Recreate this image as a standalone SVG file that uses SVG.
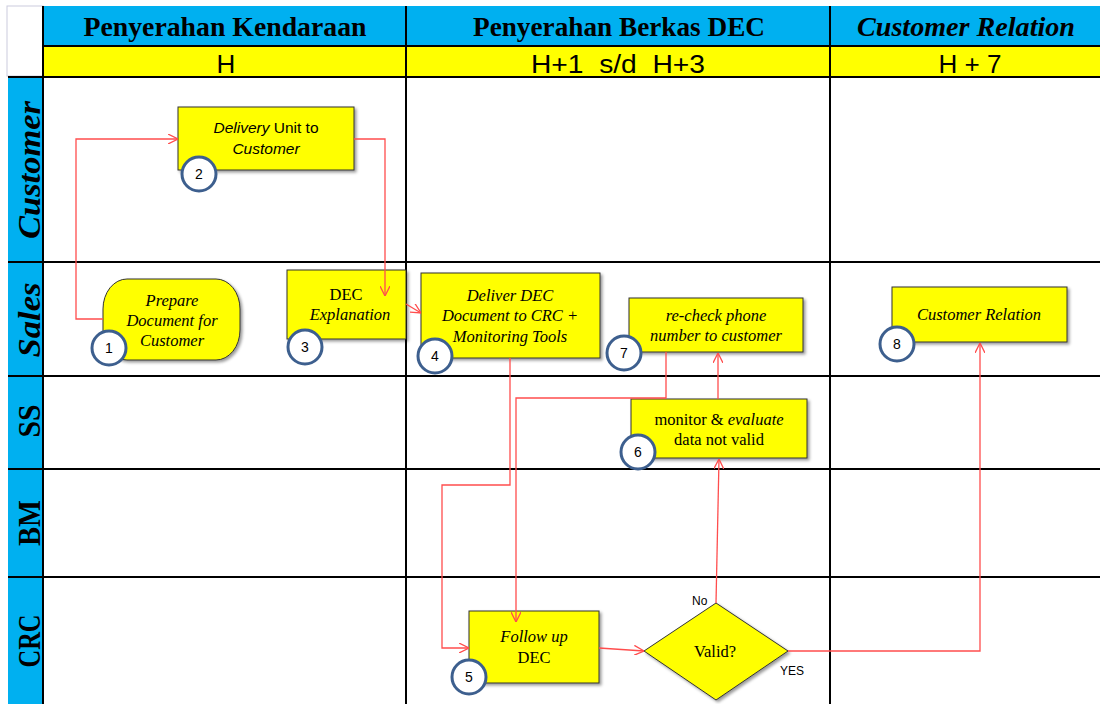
<svg xmlns="http://www.w3.org/2000/svg" width="1104" height="704" viewBox="0 0 1104 704">
<defs>
<style>
.hdr{font-family:"Liberation Serif",serif;font-weight:bold;font-size:28px;fill:#000;text-anchor:middle}
.day{font-family:"Liberation Sans",sans-serif;font-size:26px;fill:#000;text-anchor:middle}
.lane{font-family:"Liberation Serif",serif;font-weight:bold;font-size:31px;fill:#000;text-anchor:middle}
.grid{stroke:#000;stroke-width:2;fill:none}
.box{fill:#ffff00;stroke:#333;stroke-width:1;filter:url(#sh)}
.t{font-family:"Liberation Serif",serif;font-size:16.5px;fill:#000;text-anchor:middle}
.s{font-family:"Liberation Sans",sans-serif;font-size:15.5px;fill:#000;text-anchor:middle}
.i{font-style:italic}
.num{fill:#fff;stroke:#3d5f8e;stroke-width:3}
.nt{font-family:"Liberation Sans",sans-serif;font-size:14px;fill:#000;text-anchor:middle}
.c{fill:none;stroke:#ff4d4d;stroke-width:1.3;marker-end:url(#ah)}
.lbl{font-family:"Liberation Sans",sans-serif;font-size:12px;fill:#000}
</style>
<filter id="sh" x="-10%" y="-10%" width="130%" height="140%">
<feDropShadow dx="2" dy="2" stdDeviation="1.5" flood-color="#000" flood-opacity="0.4"/>
</filter>
<marker id="ah" viewBox="0 0 10 10" refX="10" refY="5" markerWidth="10" markerHeight="10" markerUnits="userSpaceOnUse" orient="auto">
<path d="M0,0 L10,5 L0,10" fill="none" stroke="#ff4d4d" stroke-width="1.3"/>
</marker>
</defs>
<rect x="0" y="0" width="1104" height="704" fill="#fff"/>
<g id="table">
<rect x="7" y="6" width="36" height="70" fill="#fff" stroke="#ccd" stroke-width="1"/>
<rect x="43" y="6" width="1057" height="40" fill="#00b0f0"/>
<rect x="43" y="46" width="1057" height="30" fill="#ffff00"/>
<rect x="8" y="77" width="35" height="627" fill="#00b0f0"/>
<line class="grid" x1="43" y1="46" x2="1100" y2="46"/>
<line class="grid" x1="8" y1="77" x2="1100" y2="77"/>
<line class="grid" x1="8" y1="262" x2="1100" y2="262"/>
<line class="grid" x1="8" y1="376" x2="1100" y2="376"/>
<line class="grid" x1="8" y1="469" x2="1100" y2="469"/>
<line class="grid" x1="8" y1="577" x2="1100" y2="577"/>
<line class="grid" x1="43" y1="6" x2="43" y2="704"/>
<line class="grid" x1="406" y1="6" x2="406" y2="704"/>
<line class="grid" x1="830" y1="6" x2="830" y2="704"/>
<text class="hdr" x="225" y="36" textLength="283" lengthAdjust="spacingAndGlyphs">Penyerahan Kendaraan</text>
<text class="hdr" x="619" y="36" textLength="292" lengthAdjust="spacingAndGlyphs">Penyerahan Berkas DEC</text>
<text class="hdr i" x="966" y="36" textLength="218" lengthAdjust="spacingAndGlyphs">Customer Relation</text>
<text class="day" x="226" y="73">H</text>
<text class="day" x="618" y="73" textLength="174" lengthAdjust="spacingAndGlyphs" xml:space="preserve">H+1  s/d  H+3</text>
<text class="day" x="970" y="73" textLength="63" lengthAdjust="spacingAndGlyphs">H + 7</text>
<text class="lane i" transform="translate(40,170) rotate(-90)" font-size="33" textLength="138" lengthAdjust="spacingAndGlyphs">Customer</text>
<text class="lane i" transform="translate(40,320) rotate(-90)" font-size="33" textLength="75" lengthAdjust="spacingAndGlyphs">Sales</text>
<text class="lane" transform="translate(40,421) rotate(-90)" textLength="33" lengthAdjust="spacingAndGlyphs">SS</text>
<text class="lane" transform="translate(40,523) rotate(-90)" textLength="46" lengthAdjust="spacingAndGlyphs">BM</text>
<text class="lane" transform="translate(40,641) rotate(-90)" textLength="53" lengthAdjust="spacingAndGlyphs">CRC</text>
</g>
<g id="node1">
<rect class="box" x="103" y="279" width="137" height="81" rx="24" ry="30"/>
<text class="t i" x="172" y="306">Prepare</text>
<text class="t i" x="172" y="326">Document for</text>
<text class="t i" x="172" y="346">Customer</text>
<circle class="num" cx="109" cy="348" r="17"/>
<text class="nt" x="109" y="353">1</text>
</g>
<g id="node2">
<rect class="box" x="178" y="107" width="176" height="63"/>
<text class="s" x="266" y="133"><tspan class="i">Delivery</tspan> Unit to</text>
<text class="s i" x="266" y="154">Customer</text>
<circle class="num" cx="199" cy="174" r="17"/>
<text class="nt" x="199" y="179">2</text>
</g>
<g id="node3">
<rect class="box" x="287" y="270" width="119" height="69"/>
<text class="t" x="346" y="300" font-size="17">DEC</text>
<text class="t i" x="350" y="320" font-size="17">Explanation</text>
<circle class="num" cx="305" cy="347" r="17"/>
<text class="nt" x="305" y="352">3</text>
</g>
<g id="node4">
<rect class="box" x="421" y="273" width="179" height="85"/>
<text class="t i" x="510" y="301" font-size="17.5">Deliver DEC</text>
<text class="t i" x="510" y="321" font-size="17.5">Document to CRC +</text>
<text class="t i" x="510" y="342" font-size="17.5">Monitoring Tools</text>
<circle class="num" cx="435" cy="356" r="17"/>
<text class="nt" x="435" y="361">4</text>
</g>
<g id="node5">
<rect class="box" x="469" y="611" width="130" height="72"/>
<text class="t i" x="534" y="642" font-size="17">Follow up</text>
<text class="t" x="534" y="663" font-size="18">DEC</text>
<circle class="num" cx="469" cy="677" r="17"/>
<text class="nt" x="469" y="682">5</text>
</g>
<g id="node6">
<rect class="box" x="631" y="399" width="176" height="59"/>
<text class="t" x="719" y="425">monitor &amp; <tspan class="i">evaluate</tspan></text>
<text class="t" x="719" y="445">data not valid</text>
<circle class="num" cx="638" cy="452" r="17"/>
<text class="nt" x="638" y="457">6</text>
</g>
<g id="node7">
<rect class="box" x="629" y="298" width="174" height="54"/>
<text class="t i" x="716" y="321" font-size="16">re-check phone</text>
<text class="t i" x="716" y="341" font-size="16">number to customer</text>
<circle class="num" cx="624" cy="353" r="17"/>
<text class="nt" x="624" y="358">7</text>
</g>
<g id="node8">
<rect class="box" x="892" y="287" width="175" height="55"/>
<text class="t i" x="979" y="320" font-size="16">Customer Relation</text>
<circle class="num" cx="897" cy="344" r="17"/>
<text class="nt" x="897" y="349">8</text>
</g>
<g id="decision">
<polygon class="box" points="716,603 788,651 716,700 644,651"/>
<text class="t" x="715" y="657" font-size="17">Valid?</text>
</g>
<g id="connectors">
<polyline class="c" points="103,319 76,319 76,139 178,139"/>
<polyline class="c" points="354,139 385,139 385,296"/>
<polyline class="c" points="406,304 421,313"/>
<polyline class="c" points="510,358 510,485 442,485 442,648 469,648"/>
<polyline class="c" points="666,352 666,398 516,398 516,622"/>
<polyline class="c" points="599,648 644,651"/>
<polyline class="c" points="716,603 719,459"/>
<polyline class="c" points="718,399 718,353"/>
<polyline class="c" points="788,651 980,651 980,343"/>
<text class="lbl" x="692" y="605">No</text>
<text class="lbl" x="780" y="675">YES</text>
</g>
</svg>
